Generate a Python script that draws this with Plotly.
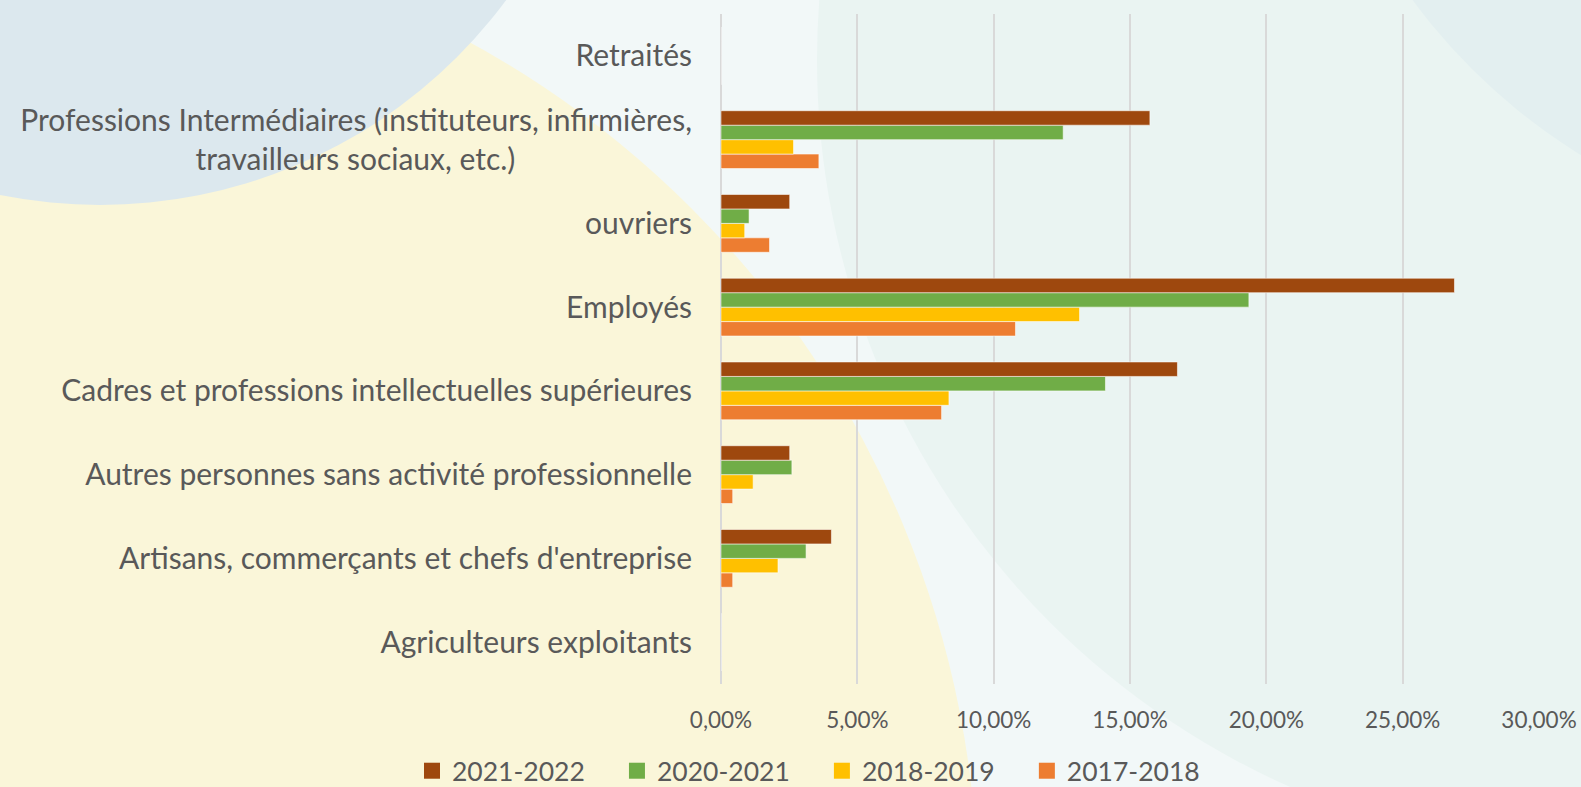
import plotly.graph_objects as go

categories = [
    "Agriculteurs exploitants",
    "Artisans, commerçants et chefs d'entreprise",
    "Autres personnes sans activité professionnelle",
    "Cadres et professions intellectuelles supérieures",
    "Employés",
    "ouvriers",
    "Professions Intermédiaires (instituteurs, infirmières,<br>travailleurs sociaux, etc.)" + "\u00a0" * 23,
    "Retraités",
]

v_2017_2018 = [0.0, 0.0043, 0.0043, 0.0809, 0.1080, 0.0178, 0.0359, 0.0]
v_2018_2019 = [0.0, 0.0209, 0.0118, 0.0836, 0.1315, 0.0087, 0.0266, 0.0]
v_2020_2021 = [0.0, 0.0312, 0.0260, 0.1410, 0.1936, 0.0103, 0.1255, 0.0]
v_2021_2022 = [0.0, 0.0405, 0.0252, 0.1674, 0.2690, 0.0252, 0.1573, 0.0]

series = [
    ("2017-2018", v_2017_2018, "#ED7D31"),
    ("2018-2019", v_2018_2019, "#FFC000"),
    ("2020-2021", v_2020_2021, "#70AD47"),
    ("2021-2022", v_2021_2022, "#9E480E"),
]

W, H = 1581, 787
L, R, T, B = 721, 42, 14, 103
PW, PH = W - L - R, H - T - B

def px(x):
    return (x - L) / PW

def py(y):
    return (H - B - y) / PH

def circle(cx, cy, r, color):
    return dict(type="circle", xref="paper", yref="paper",
                x0=px(cx - r), x1=px(cx + r), y0=py(cy + r), y1=py(cy - r),
                fillcolor=color, line=dict(width=0), layer="below")

fig = go.Figure()
for name, vals, color in series:
    fig.add_trace(go.Bar(
        y=categories, x=vals, name=name, orientation="h", showlegend=False,
        marker=dict(color=color, line=dict(color="rgba(255,255,255,0.55)", width=1)),
    ))
# legend entries (square keys)
for i, (name, vals, color) in enumerate(series):
    pad = "" if i == 0 else "\u00a0" * 4
    fig.add_trace(go.Scatter(
        x=[None], y=[None], name=name + pad, mode="markers",
        marker=dict(symbol="square", size=18, color=color),
    ))

font_family = "Lato, 'Open Sans', sans-serif"
fig.update_layout(
    width=W, height=H,
    margin=dict(l=L, r=R, t=T, b=B, autoexpand=False),
    paper_bgcolor="#F2F8F8",
    plot_bgcolor="rgba(0,0,0,0)",
    barmode="group", bargap=0.31, bargroupgap=0,
    separators=", ",
    font=dict(family=font_family, color="#595959"),
    showlegend=True,
    legend=dict(orientation="h", traceorder="reversed", x=px(412), xanchor="left",
                y=py(771), yanchor="middle", font=dict(size=26.5, color="#595959"),
                itemsizing="trace", itemwidth=30, bgcolor="rgba(0,0,0,0)"),
    xaxis=dict(range=[0, 0.30], tickformat=".2%", dtick=0.05, showgrid=True,
               gridcolor="#D9D9D9", gridwidth=1.5, zeroline=True, zerolinecolor="#D9D9D9",
               zerolinewidth=1.5, showline=False, tickfont=dict(size=22.5, color="#595959"),
               ticks="outside", ticklen=16, tickcolor="rgba(0,0,0,0)", fixedrange=True),
    yaxis=dict(categoryorder="array", categoryarray=categories, showgrid=False,
               zeroline=False, showline=False, tickfont=dict(size=30, color="#595959"),
               ticks="outside", ticklen=22, tickcolor="rgba(0,0,0,0)"),
    shapes=[
        circle(1612, 60, 795, "#EAF4F2"),
        circle(1900, -360, 606, "#E3EFF0"),
        circle(0, 900, 978, "#FAF6D9"),
        circle(100, -300, 505, "#DCE8EE"),
    ],
)

fig.write_html("out.html", config={"displayModeBar": False},
               post_script="document.body.style.margin='0';document.body.style.overflow='hidden';")
